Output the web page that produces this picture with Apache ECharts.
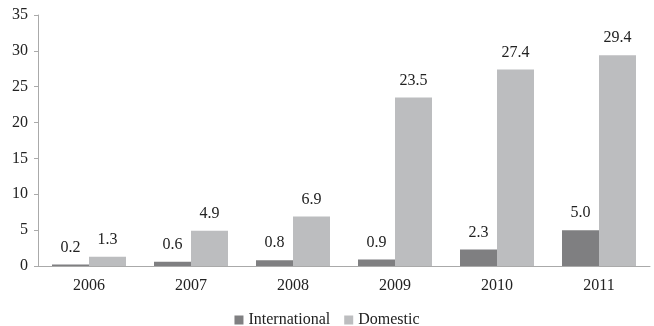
<!DOCTYPE html>
<html>
<head>
<meta charset="utf-8">
<script src="https://cdn.jsdelivr.net/npm/echarts@6/dist/echarts.min.js"></script>
<style>
  html, body { margin: 0; padding: 0; background: #fff; }
  #chart { width: 654px; height: 326px; }
</style>
</head>
<body>
<div id="chart"></div>
<script>
const years = ['2006', '2007', '2008', '2009', '2010', '2011'];
const international = [0.2, 0.6, 0.8, 0.9, 2.3, 5.0];
const domestic = [1.3, 4.9, 6.9, 23.5, 27.4, 29.4];

const font = 'Liberation Serif';
const myChart = echarts.init(document.getElementById('chart'));

const labelStyle = {
    show: true,
    position: 'top',
    fontFamily: font,
    fontSize: 16,
    color: '#222',
    distance: 9,
    formatter: p => p.value.toFixed(1)
};

const option = {
    animation: false,
    textStyle: { fontFamily: font },
    grid: { left: 38, right: 4, top: 15, bottom: 60 },
    legend: {
        top: 307,
        left: 'center',
        itemWidth: 9,
        itemHeight: 9,
        itemGap: 14,
        icon: 'rect',
        textStyle: { fontFamily: font, fontSize: 16, color: '#222' },
        data: ['International', 'Domestic']
    },
    xAxis: {
        type: 'category',
        data: years,
        axisLine: { lineStyle: { color: '#aaa' } },
        axisTick: { show: false },
        axisLabel: { fontFamily: font, fontSize: 16, color: '#222', margin: 12 }
    },
    yAxis: {
        type: 'value',
        min: 0,
        max: 35,
        interval: 5,
        axisLine: { show: true, lineStyle: { color: '#aaa' } },
        axisTick: { show: true, length: 4, lineStyle: { color: '#aaa' } },
        splitLine: { show: false },
        axisLabel: { fontFamily: font, fontSize: 16, color: '#222', margin: 10 }
    },
    series: [
        {
            name: 'International',
            type: 'bar',
            data: international,
            barWidth: 37,
            barGap: '0%',
            itemStyle: { color: '#7f7f81' },
            label: labelStyle
        },
        {
            name: 'Domestic',
            type: 'bar',
            data: domestic,
            barWidth: 37,
            barGap: '0%',
            itemStyle: { color: '#bcbdbf' },
            label: labelStyle
        }
    ]
};
myChart.setOption(option);
</script>
</body>
</html>
